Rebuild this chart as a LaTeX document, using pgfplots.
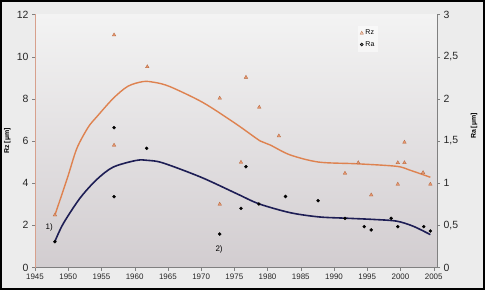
\documentclass[border=0pt]{standalone}
\usepackage{fontspec}
\setmainfont{Liberation Sans}
\usepackage{pgfplots}
\pgfplotsset{compat=1.18}
\definecolor{rzc}{RGB}{222,130,80}
\definecolor{rztri}{RGB}{232,150,110}
\definecolor{rac}{RGB}{30,30,85}
\definecolor{bgout}{RGB}{236,236,236}
\definecolor{bgtop}{RGB}{243,243,243}
\definecolor{bgbot}{RGB}{210,205,208}
\definecolor{rzaxis}{RGB}{215,160,140}
\begin{document}
\begin{tikzpicture}
\useasboundingbox (0,0) rectangle (485bp,290bp);
\fill[bgout] (0,0) rectangle (485bp,290bp);
\draw[line width=2bp] (1bp,1bp) rectangle (484bp,289bp);
\pgfplotsset{
  common/.style={
    at={(35bp,22.5bp)}, anchor=south west,
    scale only axis, width=402bp, height=253bp,
    xmin=1945, xmax=2005.5,
    /pgf/number format/assume math mode=true,
    /pgf/number format/1000 sep={},
    tick align=outside, major tick length=3bp,
    tick style={gray},
    y tick label style={font=\fontsize{10.5}{12}\selectfont, text=black!85},
    x tick label style={font=\fontsize{8}{9}\selectfont, text=black!85},
  }
}
\begin{axis}[common,
  ymin=0, ymax=12,
  axis y line*=left, axis x line*=bottom,
  x axis line style={-, gray},
  y axis line style={-, rzaxis, line width=1bp},
  xtick={1945,1950,...,2005}, ytick={0,2,...,12},
  axis background/.style={shade, top color=bgtop, bottom color=bgbot},
  ylabel={\textbf{Rz [µm]}},
  ylabel style={at={(axis description cs:-0.069,0.5)}, anchor=center, font=\fontsize{7}{8}\selectfont},
  clip=false,
]
\addplot[rzc, line width=1.4bp, smooth, tension=0.5] coordinates {
(1948.0,2.49) (1949.9,4.27) (1951.3,5.65) (1953,6.65) (1954.3,7.15) (1956.8,8.03) (1959,8.6) (1961.3,8.82) (1963,8.78) (1965.3,8.58) (1970.3,7.82) (1975.3,6.8) (1978.9,6.0) (1980.4,5.81) (1983.4,5.34) (1987.7,5.0) (1993.4,4.92) (1999.4,4.8) (2001.4,4.62) (2004.5,4.28)
};
\addplot[only marks, mark=triangle*, mark size=2.1bp, mark options={fill=rztri, draw=rzc!80!black, line width=0.3bp}] coordinates {
(1948.0,2.49) (1956.9,11.03) (1956.9,5.80) (1961.9,9.52) (1972.8,3.00) (1972.8,8.03) (1976.0,4.99) (1976.75,9.02) (1978.75,7.60) (1981.7,6.24) (1991.65,4.47) (1993.65,4.97) (1995.6,3.44) (1999.6,3.95) (1999.6,4.97) (2000.6,4.97) (2000.6,5.94) (2003.4,4.50) (2004.5,3.95)
};
\node[font=\fontsize{8}{9}\selectfont] at (axis cs:1947.15,1.91) {1)};
\node[font=\fontsize{8}{9}\selectfont] at (axis cs:1972.7,0.86) {2)};
\end{axis}
\begin{axis}[common,
  ymin=0, ymax=3,
  axis y line*=right, axis x line=none,
  y axis line style={-, gray, line width=1bp},
  ytick={0,0.5,...,3},
  /pgf/number format/use comma,
  ylabel={\textbf{Ra [µm]}},
  ylabel style={at={(axis description cs:1.092,0.559)}, anchor=center, font=\fontsize{7}{8}\selectfont},
  legend style={at={(axis description cs:0.803,0.955)}, anchor=north west, draw=none, fill=white, fill opacity=0.5, text opacity=1, font=\fontsize{7}{8}\selectfont, inner sep=2bp, row sep=1bp},
  legend cell align=left,
]
\addlegendimage{only marks, mark=triangle*, mark size=2bp, mark options={fill=rztri, draw=rzc!80!black, line width=0.3bp}}
\addlegendentry{Rz}
\addplot[rac, line width=1.6bp, smooth, tension=0.5, forget plot] coordinates {
(1948,0.31) (1949.25,0.52) (1951.75,0.82) (1954.25,1.04) (1956.75,1.19) (1960.25,1.27) (1962,1.27) (1964.25,1.24) (1970,1.07) (1975.5,0.87) (1978.7,0.755) (1983.4,0.65) (1987.7,0.60) (1991.65,0.585) (1995.9,0.57) (1999.4,0.55) (2001.9,0.49) (2004.5,0.39)
};
\addplot[only marks, mark=*, mark size=1.5bp, mark options={fill=black, draw=black}] coordinates {
(1948,0.306) (1956.9,1.658) (1956.9,0.840) (1961.8,1.413) (1972.8,0.397) (1976.0,0.702) (1976.75,1.195) (1978.7,0.753) (1982.7,0.842) (1987.6,0.792) (1991.65,0.583) (1994.55,0.484) (1995.6,0.445) (1998.6,0.583) (1999.6,0.484) (2003.5,0.484) (2004.5,0.433)
};
\addlegendentry{Ra}
\end{axis}
\end{tikzpicture}
\end{document}
